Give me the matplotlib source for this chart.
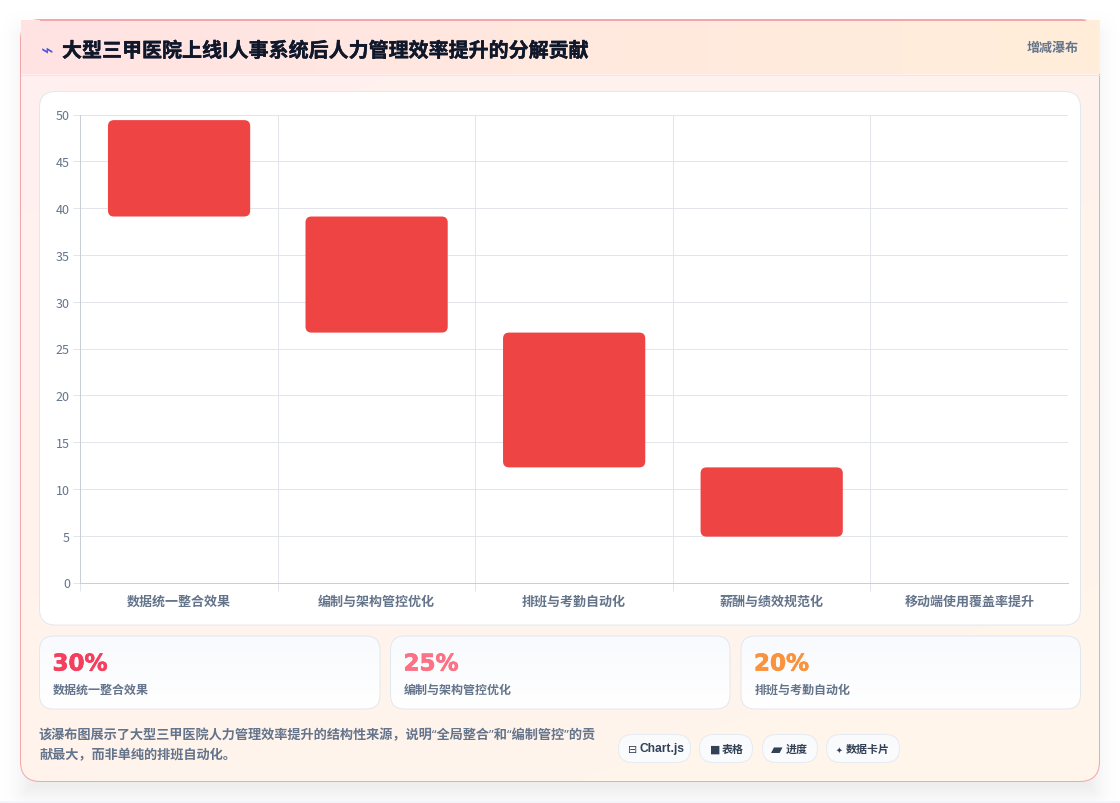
import math
import numpy as np
import matplotlib.pyplot as plt
import matplotlib.patheffects as pe
from matplotlib.patches import FancyBboxPatch, Rectangle
from matplotlib.colors import to_rgb

W, H = 1120, 804
CJK = ['Noto Sans CJK SC', 'DejaVu Sans']
LATIN_CJK = ['Noto Sans', 'Noto Sans CJK SC', 'DejaVu Sans']
PILL_FONT = ['Liberation Sans', 'Noto Sans CJK SC', 'DejaVu Sans']
plt.rcParams['font.family'] = CJK

categories = ['数据统一整合效果', '编制与架构管控优化', '排班与考勤自动化', '薪酬与绩效规范化', '移动端使用覆盖率提升']
bar_tops = [49.4, 39.1, 26.7, 12.3]
bar_bottoms = [39.1, 26.7, 12.3, 4.9]
y_ticks = [0, 5, 10, 15, 20, 25, 30, 35, 40, 45, 50]

stat_values = ['30%', '25%', '20%']
stat_labels = ['数据统一整合效果', '编制与架构管控优化', '排班与考勤自动化']
stat_colors = ['#f43f5e', '#fb7185', '#fb923c']

title = '大型三甲医院上线I人事系统后人力管理效率提升的分解贡献'
badge = '增减瀑布'
note_lines = ['该瀑布图展示了大型三甲医院人力管理效率提升的结构性来源，说明“全局整合”和“编制管控”的贡',
              '献最大，而非单纯的排班自动化。']
pill_icons = ['⊟', '■', '▰', '✦']
pill_labels = ['Chart.js', '表格', '进度', '数据卡片']

LINE = 0.72  # one pixel at dpi 100


def px(size):
    return size * 0.72


def box(x0, y0, x1, y1, r):
    return FancyBboxPatch((x0 + r, y0 + r), x1 - x0 - 2 * r, y1 - y0 - 2 * r,
                          boxstyle='round,pad=%f,rounding_size=%f' % (r, r))


def gradient(ax, x0, y0, x1, y1, c0, c1, angle, clip=None, zorder=1):
    # linear gradient between two colours, clipped to a patch if given
    n = 200
    xs, ys = np.meshgrid(np.linspace(0, 1, n), np.linspace(0, 1, n))
    a = math.radians(angle)
    t = xs * math.cos(a) + ys * math.sin(a)
    t = (t - t.min()) / (t.max() - t.min())
    c0, c1 = np.array(to_rgb(c0)), np.array(to_rgb(c1))
    img = c0 + (c1 - c0) * t[..., None]
    im = ax.imshow(img, extent=(x0, x1, y1, y0), aspect='auto', zorder=zorder, interpolation='bilinear')
    if clip is not None:
        im.set_clip_path(clip)
    return im


def card(ax, x0, y0, x1, y1, r, c0, c1, angle, edge, zorder=2):
    p = box(x0, y0, x1, y1, r)
    p.set(facecolor='none', edgecolor='none', transform=ax.transData)
    ax.add_patch(p)
    gradient(ax, x0, y0, x1, y1, c0, c1, angle, clip=p, zorder=zorder)
    b = box(x0, y0, x1, y1, r)
    b.set(facecolor='none', edgecolor=edge, linewidth=LINE, zorder=zorder + 0.1)
    ax.add_patch(b)


def heavier(width, color):
    return [pe.withStroke(linewidth=width, foreground=color)]


fig = plt.figure(figsize=(W / 100, H / 100), dpi=100, facecolor='white')
bg = fig.add_axes([0, 0, 1, 1])
bg.axis('off')

# soft shadow under the main card
yy, xx = np.mgrid[0:H, 0:W]
cx, cy, hw, hh = 560, 415, 535, 378
dx = np.abs(xx + 0.5 - cx) - hw
dy = np.abs(yy + 0.5 - cy) - hh
dist = np.hypot(np.maximum(dx, 0), np.maximum(dy, 0)) + np.minimum(np.maximum(dx, dy), 0)
alpha = 0.10 * 0.5 * (1 - np.tanh(dist / 16))
shadow = np.ones((H, W, 4))
shadow[..., :3] = 0.06
shadow[..., 3] = alpha
bg.imshow(shadow, extent=(0, W, H, 0), aspect='auto', zorder=0.5)
bg.set_xlim(0, W)
bg.set_ylim(H, 0)
bg.add_patch(Rectangle((0, 802), W, 2, facecolor='#f3f5f8', edgecolor='none', zorder=0.6))

# main card and header band
card(bg, 20.5, 20.5, 1099.5, 782.5, 20, '#fff0f0', '#fff6ea', 62, '#f3a6ab', zorder=1)
gradient(bg, 21, 21, 1100, 75, '#ffe3e3', '#ffeeda', 0, zorder=1.5)
bg.plot([21, 1099], [75.5, 75.5], color='#ece6ea', lw=LINE, zorder=1.6)
bg.plot([40, 1085], [20.5, 20.5], color='#f3a6ab', lw=LINE, zorder=1.6)

bg.text(47, 50, '⌁', color='#4f56e0', fontsize=px(21), ha='center', va='center', zorder=3, family='DejaVu Sans')
bg.text(62, 51.5, title, color='#0f172a', fontsize=px(20), fontweight='bold', ha='left', va='center', zorder=3,
        path_effects=heavier(0.3, '#0f172a'))
bg.text(1079, 48, badge, color='#64748b', fontsize=px(13), fontweight='bold', ha='right', va='center', zorder=3)

# chart panel
card(bg, 39.5, 92.5, 1080.5, 626, 16, '#ffffff', '#ffffff', 0, '#e2e8f0')

# stat cards
for (x0, x1), value, label, color in zip([(39.5, 380), (390.5, 730), (741, 1080.5)], stat_values, stat_labels, stat_colors):
    card(bg, x0, 637, x1, 710, 14, '#f8fafd', '#ffffff', 90, '#e2e8f0')
    bg.text(x0 + 13, 665, value, color=color, fontsize=px(23), fontweight='bold', ha='left', va='center',
            family='DejaVu Sans', zorder=3, path_effects=heavier(0.5, color))
    bg.text(x0 + 13.5, 690, label, color='#64748b', fontsize=px(12), fontweight='bold', ha='left', va='center', zorder=3)

for i, line in enumerate(note_lines):
    bg.text(39, 735.5 + i * 20.5, line, color='#64748b', fontsize=px(13.18), fontweight='bold', ha='left', va='center',
            family=LATIN_CJK, zorder=3)

# little pills next to the note: (left, right, icon x, icon size, text x, text size)
pill_layout = [(618, 691, 628, 11, 640, 12), (699, 753, 710, 11, 722, 11),
               (762, 818, 771, 15, 786, 11), (826, 900, 836, 8, 846, 11)]
for (x0, x1, ix, isize, tx, tsize), icon, label in zip(pill_layout, pill_icons, pill_labels):
    card(bg, x0 + 0.5, 735.5, x1 - 0.5, 763.5, 14, '#f8fafc', '#fbfcfe', 90, '#e6ebf2')
    bg.text(ix, 750, icon, color='#334155', fontsize=px(isize), ha='left', va='center', family='DejaVu Sans', zorder=3)
    bg.text(tx, 749.5, label, color='#334155', fontsize=px(tsize), fontweight='bold', ha='left', va='center',
            family=PILL_FONT, zorder=3)

# waterfall chart
left, right, top, bottom = 80.3, 1068, 115.5, 583.5
ax = fig.add_axes([left / W, 1 - bottom / H, (right - left) / W, (bottom - top) / H])
ax.patch.set_alpha(0)
ax.set_xlim(-0.5, len(categories) - 0.5)
ax.set_ylim(0, 50)

x_unit = (right - left) / len(categories)
y_unit = (bottom - top) / 50
radius = 6 / x_unit
aspect = (6 / y_unit) / radius
bar_width = 0.72
for i, (t, b) in enumerate(zip(bar_tops, bar_bottoms)):
    # inset by the rounding so the outer edge lands on the real value
    patch = FancyBboxPatch((i - bar_width / 2 + radius, b + 6 / y_unit), bar_width - 2 * radius, t - b - 12 / y_unit,
                           boxstyle='round,pad=%f,rounding_size=%f' % (radius, radius), mutation_aspect=aspect,
                           facecolor='#ef4444', edgecolor='none', zorder=3)
    ax.add_patch(patch)

ax.set_yticks(y_ticks)
ax.set_xticks(range(len(categories)))
ax.set_xticklabels(categories, fontsize=px(13), fontweight='bold', color='#64748b')
ax.set_xticks(np.arange(-0.5, len(categories) - 0.5), minor=True)
ax.tick_params(axis='x', which='major', length=0, pad=16)
ax.tick_params(axis='x', which='minor', length=5.8, width=LINE, color='#e2e6ea')
ax.tick_params(axis='y', length=5, width=LINE, color='#e2e6ea', labelsize=px(12.5), labelcolor='#64748b', pad=2.5)
# same baseline for every category label
for lbl in ax.get_xticklabels():
    lbl.set_va('baseline')
ax.grid(axis='y', color='#e2e6ea', lw=LINE, zorder=0)
ax.grid(axis='x', which='minor', color='#e2e6ea', lw=LINE, zorder=0)
ax.set_axisbelow(True)
for s in ['top', 'right']:
    ax.spines[s].set_visible(False)
for s in ['left', 'bottom']:
    ax.spines[s].set_color('#c9ced8')
    ax.spines[s].set_linewidth(LINE)

fig.savefig('out.png', dpi=100)
